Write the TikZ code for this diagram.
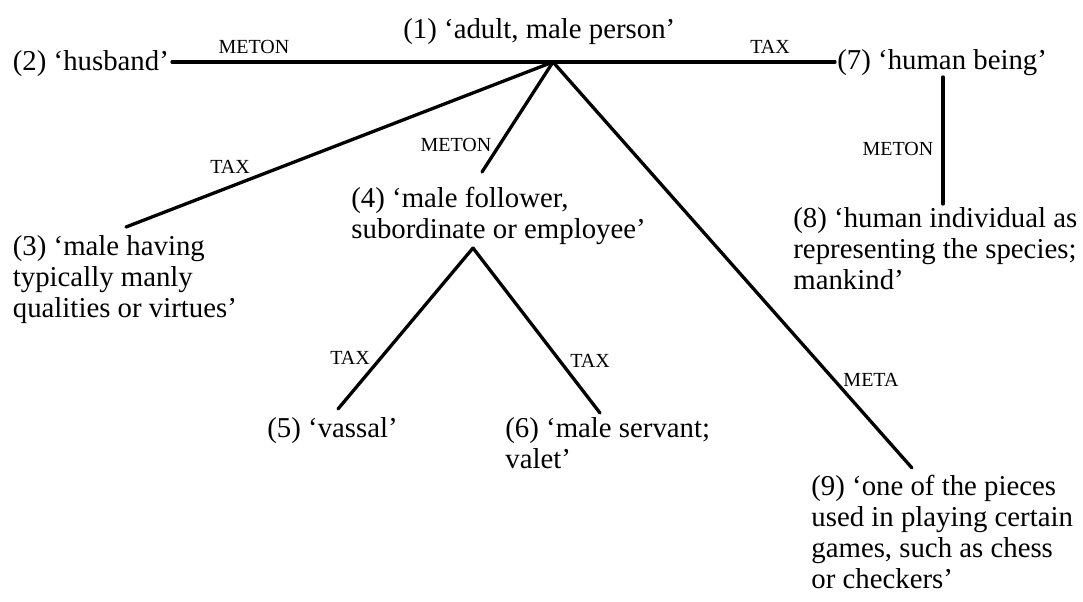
\documentclass[tikz,border=0pt]{standalone}
\usepackage{fontspec}
\setmainfont{Liberation Serif}
\newcommand{\twoline}[2]{\vtop{\baselineskip=15.5pt\hbox{#1}\hbox{#2}}}
\newcommand{\threeline}[3]{\vtop{\baselineskip=15.5pt\hbox{#1}\hbox{#2}\hbox{#3}}}
\newcommand{\fourline}[4]{\vtop{\baselineskip=15.5pt\hbox{#1}\hbox{#2}\hbox{#3}\hbox{#4}}}
\begin{document}
\begin{tikzpicture}[x=0.5pt,y=-0.5pt,
  txt/.style={inner sep=0pt, anchor=base west, font=\fontsize{14.4}{15.5}\selectfont},
  lbl/.style={inner sep=0pt, font=\fontsize{10}{11}\selectfont},
  rel/.style={line width=1.65pt, line cap=round}]
\useasboundingbox (0,0) rectangle (1083,601);
% sense nodes
\node[txt] (n1) at (403,38) {(1) ‘adult, male person’};
\node[txt] (n2) at (12.5,70.5) {(2) ‘husband’};
\node[txt] (n7) at (837,69.5) {(7) ‘human being’};
\node[txt] (n3) at (12.5,255) {\threeline{(3) ‘male having}{typically manly}{qualities or virtues’}};
\node[txt] (n4) at (351,207) {\twoline{(4) ‘male follower,}{subordinate or employee’}};
\node[txt] (n5) at (267,437) {(5) ‘vassal’};
\node[txt] (n6) at (505,437) {\twoline{(6) ‘male servant;}{valet’}};
\node[txt] (n8) at (793,227) {\threeline{(8) ‘human individual as}{representing the species;}{mankind’}};
\node[txt] (n9) at (811,495) {\fourline{(9) ‘one of the pieces}{used in playing certain}{games, such as chess}{or checkers’}};
% connector end points
\coordinate (hub) at (553,62);
\coordinate (e2) at (172,62);
\coordinate (e7) at (835,62);
\coordinate (e3) at (126,227);
\coordinate (e4) at (482,172);
\coordinate (apex) at (473,248);
\coordinate (e5) at (338,409);
\coordinate (e6) at (600,413);
\coordinate (t7) at (943,77);
\coordinate (e8) at (943,204);
\coordinate (e9) at (912,468);
% connectors with relation labels
\draw[rel] (e2) -- (hub) node[lbl] (l2) at (254,47) {METON};
\draw[rel] (hub) -- (e7) node[lbl] (l7) at (770,47) {TAX};
\draw[rel] (hub) -- (e3) node[lbl] (l3) at (230,167) {TAX};
\draw[rel] (hub) -- (e4) node[lbl] (l4) at (456,145) {METON};
\draw[rel] (hub) -- (e9) node[lbl] (l9) at (871,380) {META};
\draw[rel] (apex) -- (e5) node[lbl] (l5) at (350,358) {TAX};
\draw[rel] (apex) -- (e6) node[lbl] (l6) at (590,361) {TAX};
\draw[rel] (t7) -- (e8) node[lbl] (l8) at (898,149) {METON};
\end{tikzpicture}
\end{document}
